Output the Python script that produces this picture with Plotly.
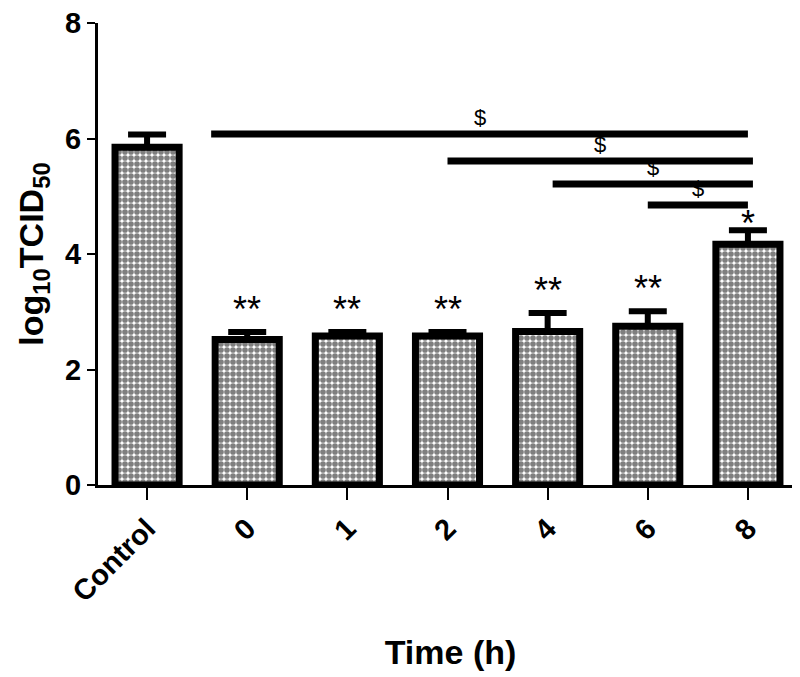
import plotly.graph_objects as go

categories = ["Control", "0", "1", "2", "4", "6", "8"]
means = [5.85, 2.52, 2.58, 2.58, 2.66, 2.75, 4.17]
sems = [0.22, 0.13, 0.07, 0.07, 0.32, 0.26, 0.24]
stars = ["", "**", "**", "**", "**", "**", "*"]

# significance brackets: start position, end position (category index units), height
bracket_x0 = [0.64, 3.0, 4.05, 5.0]
bracket_x1 = [6.0, 6.05, 6.05, 6.0]
bracket_y = [6.08, 5.61, 5.21, 4.85]
bracket_label = ["$", "$", "$", "$"]

xpos = list(range(len(categories)))
FONT = "Liberation Sans, Arial, sans-serif"

fig = go.Figure()
fig.add_trace(go.Bar(
    x=xpos, y=means, width=0.64,
    marker=dict(color="white",
                line=dict(color="black", width=7),
                pattern=dict(shape=".", size=6, solidity=0.7,
                             fgcolor="black", bgcolor="white", fillmode="overlay")),
    error_y=dict(type="data", array=sems, arrayminus=[0] * len(sems),
                 symmetric=False, color="black", thickness=6, width=19),
    showlegend=False,
))

for x0, x1, y, lab in zip(bracket_x0, bracket_x1, bracket_y, bracket_label):
    fig.add_trace(go.Scatter(x=[x0, x1], y=[y, y], mode="lines",
                             line=dict(color="black", width=7),
                             showlegend=False, hoverinfo="skip"))
    fig.add_annotation(x=(x0 + x1) / 2, y=y, text=lab, showarrow=False,
                       yanchor="bottom", yshift=2,
                       font=dict(family=FONT, size=22, color="black"))

for x, m, s, st in zip(xpos, means, sems, stars):
    if st:
        fig.add_annotation(x=x, y=m + s, text=st, showarrow=False,
                           yanchor="bottom", yshift=(0 if len(st) > 1 else -16),
                           font=dict(family=FONT, size=36, color="black"))

fig.update_layout(
    width=800, height=677,
    margin=dict(l=90, r=5, t=15, b=200),
    paper_bgcolor="white", plot_bgcolor="white",
    font=dict(family=FONT, color="black"),
    bargap=0.3,
)
fig.update_xaxes(
    range=[-0.49, 6.55], tickmode="array", tickvals=xpos, ticktext=categories,
    tickangle=-45, tickfont=dict(size=29, family=FONT, color="black", weight="bold"),
    showline=True, linecolor="black", linewidth=3,
    ticks="outside", ticklen=12, tickwidth=2, tickcolor="black",
    showgrid=False, zeroline=False, automargin=False,
    title=dict(text="<b>Time (h)</b>", font=dict(size=34, family=FONT), standoff=34),
)
fig.update_yaxes(
    range=[0, 8], tickvals=[0, 2, 4, 6, 8], ticklabeloverflow="allow",
    tickfont=dict(size=29, family=FONT, color="black", weight="bold"),
    showline=True, linecolor="black", linewidth=3,
    ticks="outside", ticklen=8, tickwidth=2, tickcolor="black",
    showgrid=False, zeroline=False, automargin=False,
    title=dict(text="<b>log<sub>10</sub>TCID<sub>50</sub></b>", font=dict(size=34, family=FONT), standoff=12),
)

fig.write_html("out.html")
